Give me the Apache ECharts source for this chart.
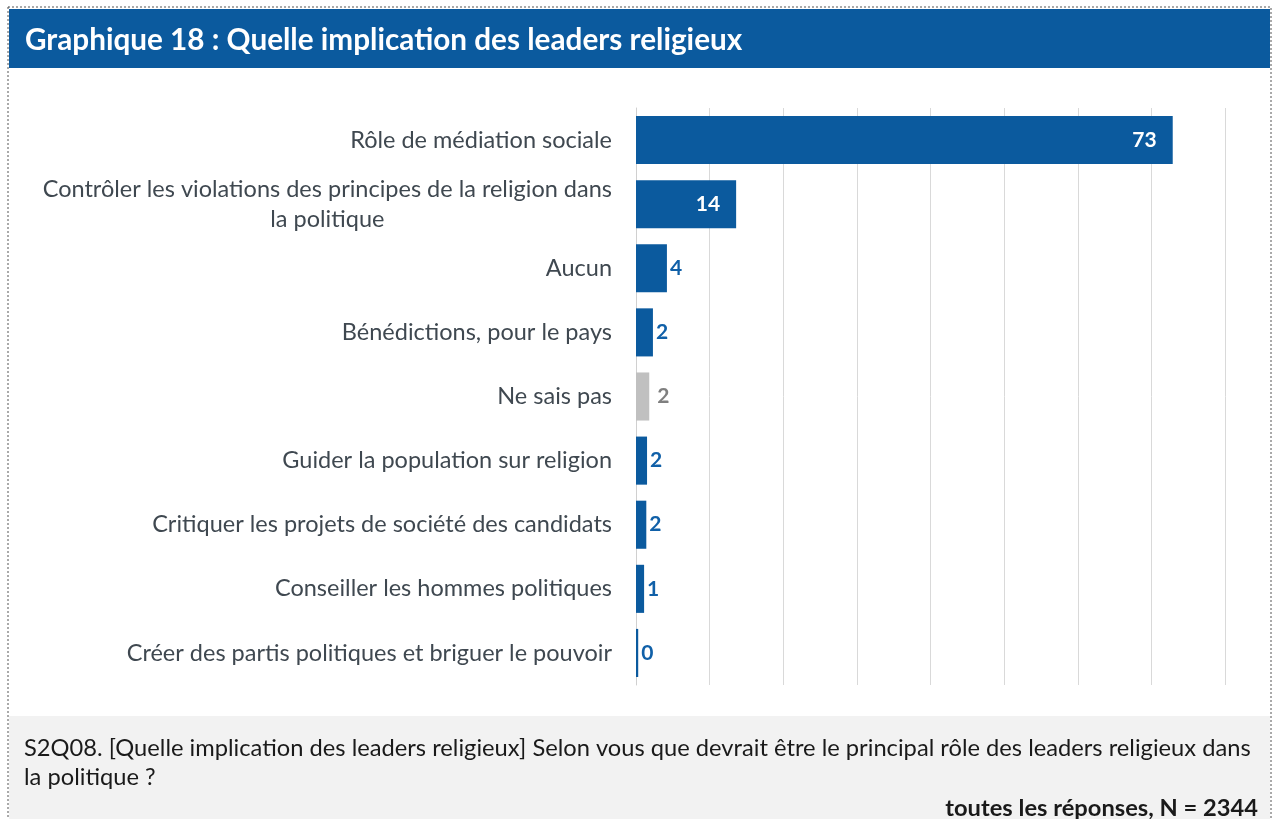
<!DOCTYPE html>
<html>
<head>
<meta charset="utf-8">
<script src="https://cdn.jsdelivr.net/npm/echarts@6/dist/echarts.min.js"></script>
<style>
  html, body { margin: 0; padding: 0; background: #fff; }
  #chart { width: 1274px; height: 819px; }
</style>
</head>
<body>
<div id="chart"></div>
<script>
// données (en %)
var categories = [
    'Rôle de médiation sociale',
    'Contrôler les violations des principes de la religion dans\nla politique',
    'Aucun',
    'Bénédictions, pour le pays',
    'Ne sais pas',
    'Guider la population sur religion',
    'Critiquer les projets de société des candidats',
    'Conseiller les hommes politiques',
    'Créer des partis politiques et briguer le pouvoir'
];
var values = [72.9, 13.6, 4.2, 2.3, 1.8, 1.5, 1.4, 1.1, 0.3];
var labels = [73, 14, 4, 2, 2, 2, 2, 1, 0];

var blue = '#0b5a9e';
var grey = '#c0c0c0';
var font = 'Lato, "DejaVu Sans", sans-serif';

var chart = echarts.init(document.getElementById('chart'));

var seriesData = [];
for (var i = 0; i < values.length; i++) {
    var v = values[i];
    var isNsp = categories[i] === 'Ne sais pas';
    var inside = v > 10;
    seriesData.push({
        value: v,
        itemStyle: { color: isNsp ? grey : blue },
        label: {
            position: inside ? 'insideRight' : 'right',
            distance: inside ? 16 : (isNsp ? 8 : 3),
            color: inside ? '#ffffff' : (isNsp ? '#7f7f7f' : '#1060a8')
        }
    });
}

option = {
    animation: false,
    backgroundColor: '#ffffff',
    title: {
        text: 'Graphique 18 : Quelle implication des leaders religieux',
        left: 20,
        top: 20,
        textStyle: {
            color: '#ffffff',
            fontFamily: font,
            fontWeight: 'bold',
            fontSize: 29.7
        }
    },
    graphic: [
        {
            // bandeau du titre
            type: 'rect', z: -1,
            shape: { x: 9, y: 9, width: 1261, height: 59 },
            style: { fill: blue }
        },
        {
            // fond gris de la note
            type: 'rect', z: -1,
            shape: { x: 9, y: 716, width: 1261, height: 110 },
            style: { fill: '#f2f2f2' }
        },
        {
            // cadre pointillé
            type: 'rect', z: 10,
            shape: { x: 8, y: 7, width: 1263, height: 830 },
            style: { fill: 'none', stroke: '#555', lineWidth: 1, lineDash: [2, 2] }
        },
        {
            type: 'text', left: 24, top: 734,
            style: {
                text: 'S2Q08. [Quelle implication des leaders religieux] Selon vous que devrait être le principal rôle des leaders religieux dans\nla politique ?',
                fill: '#1a1a1a',
                font: '23.7px ' + font,
                lineHeight: 29
            }
        },
        {
            type: 'text', right: 16, top: 796,
            style: {
                text: 'toutes les réponses, N = 2344',
                fill: '#1a1a1a',
                font: 'bold 23.7px ' + font
            }
        }
    ],
    grid: {
        left: 636,
        right: 49,
        top: 108,
        bottom: 134
    },
    xAxis: {
        type: 'value',
        min: 0,
        max: 80,
        interval: 10,
        axisLabel: { show: false },
        axisLine: { show: false },
        axisTick: { show: false },
        splitLine: { lineStyle: { color: '#d9d9d9', width: 1 } }
    },
    yAxis: {
        type: 'category',
        inverse: true,
        data: categories,
        axisLine: { lineStyle: { color: '#d0d0d0' } },
        axisTick: { length: 6, lineStyle: { color: '#d0d0d0' } },
        axisLabel: {
            margin: 24,
            formatter: function(val) {
                return val.split('\n').map(function(s) { return '{c|' + s + '}'; }).join('\n');
            },
            rich: {
                c: {
                    align: 'center',
                    color: '#3f4850',
                    fontFamily: font,
                    fontSize: 23.5,
                    lineHeight: 30
                }
            }
        }
    },
    series: [{
        type: 'bar',
        barWidth: '75%',
        data: seriesData,
        label: {
            show: true,
            fontFamily: font,
            fontWeight: 'bold',
            fontSize: 21,
            formatter: function(p) { return labels[p.dataIndex]; }
        }
    }]
};

chart.setOption(option);
</script>
</body>
</html>
